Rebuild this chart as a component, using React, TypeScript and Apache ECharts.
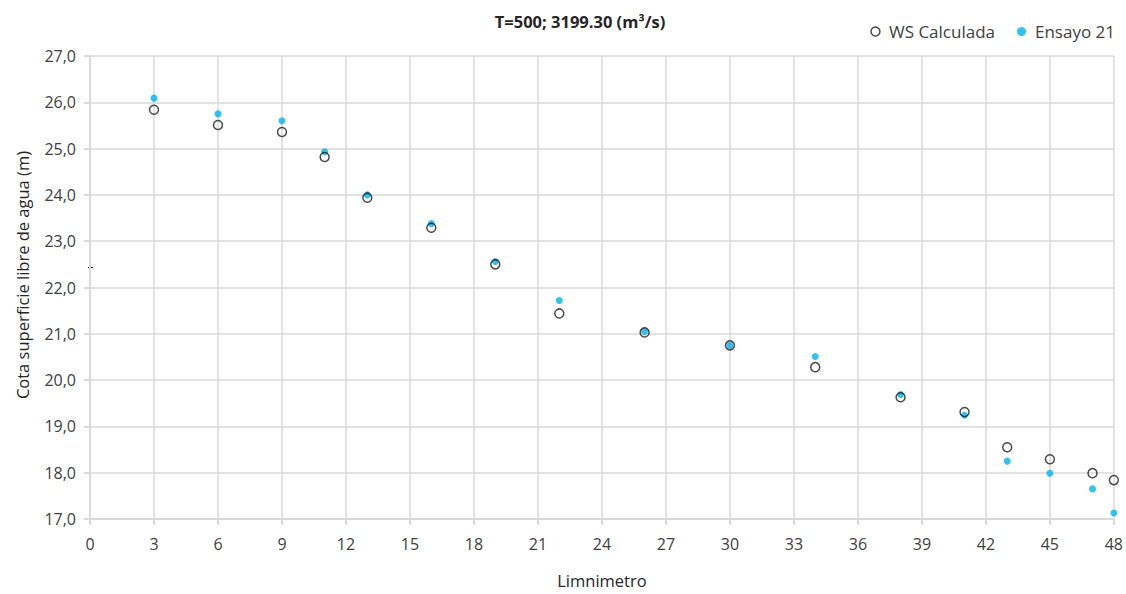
import React, { useEffect, useRef } from "react";
import * as echarts from "echarts";

const limnimetro = [3, 6, 9, 11, 13, 16, 19, 22, 26, 30, 34, 38, 41, 43, 45, 47, 48];
const wsCalculada = [25.84, 25.51, 25.36, 24.82, 23.94, 23.29, 22.5, 21.44, 21.03, 20.75, 20.28, 19.63, 19.31, 18.55, 18.29, 17.99, 17.84];
const ensayo21 = [26.09, 25.75, 25.6, 24.93, 24.0, 23.38, 22.56, 21.72, 21.05, 20.75, 20.51, 19.69, 19.24, 18.25, 17.99, 17.65, 17.13];

const FONT = "'Open Sans', 'Noto Sans', sans-serif";
const TXT = "#404040";
const AXIS = "#d9d9d9";

export default function App() {
  const ref = useRef<HTMLDivElement>(null);
  useEffect(() => {
    if (!ref.current) return;
    const chart = echarts.init(ref.current, undefined, { renderer: "svg" });
    chart.setOption({
      animation: false,
      backgroundColor: "#ffffff",
      textStyle: { fontFamily: FONT },
      title: {
        text: "T=500; 3199.30 (m³/s)",
        left: 575,
        textAlign: "center",
        top: 8,
        textStyle: { fontFamily: FONT, fontSize: 16.5, fontWeight: "bold", color: "#262626" },
      },
      legend: {
        right: 6,
        top: 18,
        itemGap: 22,
        itemWidth: 9,
        itemHeight: 9,
        textStyle: { fontFamily: FONT, fontSize: 17, color: TXT, padding: [0, 0, 0, 4] },
        data: [
          { name: "WS Calculada", icon: "circle", itemStyle: { color: "#ffffff", borderColor: "#1a1a1a", borderWidth: 1.5 } },
          { name: "Ensayo 21", icon: "circle", itemStyle: { color: "#00b0f0" } },
        ],
      },
      grid: { left: 90, right: 10, top: 56, bottom: 72, containLabel: false },
      xAxis: {
        type: "value",
        min: 0,
        max: 48,
        interval: 3,
        name: "Limnimetro",
        nameLocation: "middle",
        nameGap: 53,
        nameTextStyle: { fontFamily: FONT, fontSize: 16.5, color: "#262626" },
        axisLine: { show: true, lineStyle: { color: AXIS, width: 2 } },
        axisTick: { show: true, length: 6, lineStyle: { color: AXIS, width: 2 } },
        axisLabel: { margin: 17, fontFamily: FONT, fontSize: 16, color: TXT },
        splitLine: { show: true, lineStyle: { color: AXIS, width: 1.5 } },
      },
      yAxis: {
        type: "value",
        min: 17,
        max: 27,
        interval: 1,
        axisLine: { show: true, lineStyle: { color: AXIS, width: 2 } },
        axisTick: { show: true, length: 6, lineStyle: { color: AXIS, width: 2 } },
        axisLabel: {
          margin: 14,
          fontFamily: FONT,
          fontSize: 16,
          color: TXT,
          formatter: (v: number) => v.toFixed(1).replace(".", ","),
        },
        splitLine: { show: true, lineStyle: { color: AXIS, width: 1.5 } },
      },
      series: [
        {
          name: "Ensayo 21",
          type: "scatter",
          symbol: "circle",
          symbolSize: 7,
          itemStyle: { color: "#00b0f0" },
          data: limnimetro.map((x, i) => [x, ensayo21[i]]),
          z: 2,
        },
        {
          name: "WS Calculada",
          type: "scatter",
          symbol: "circle",
          symbolSize: 9,
          itemStyle: { color: "rgba(255,255,255,0)", borderColor: "#1a1a1a", borderWidth: 1.5 },
          data: limnimetro.map((x, i) => [x, wsCalculada[i]]),
          z: 3,
        },
      ],
      graphic: [
        {
          type: "text",
          x: 22,
          y: 275,
          rotation: Math.PI / 2,
          style: {
            text: "Cota superficie libre de agua (m)",
            font: "16.5px 'Open Sans', 'Noto Sans', sans-serif",
            fill: "#262626",
            align: "center",
            verticalAlign: "middle",
          },
        },
        {
          type: "line",
          shape: { x1: 88, y1: 267.5, x2: 93, y2: 267.5 },
          style: { stroke: "#000000", lineWidth: 1 },
        },
      ],
    });
    return () => chart.dispose();
  }, []);
  return (
    <div
      ref={ref}
      style={{ position: "fixed", left: 0, top: 0, width: 1126, height: 594 }}
    />
  );
}
